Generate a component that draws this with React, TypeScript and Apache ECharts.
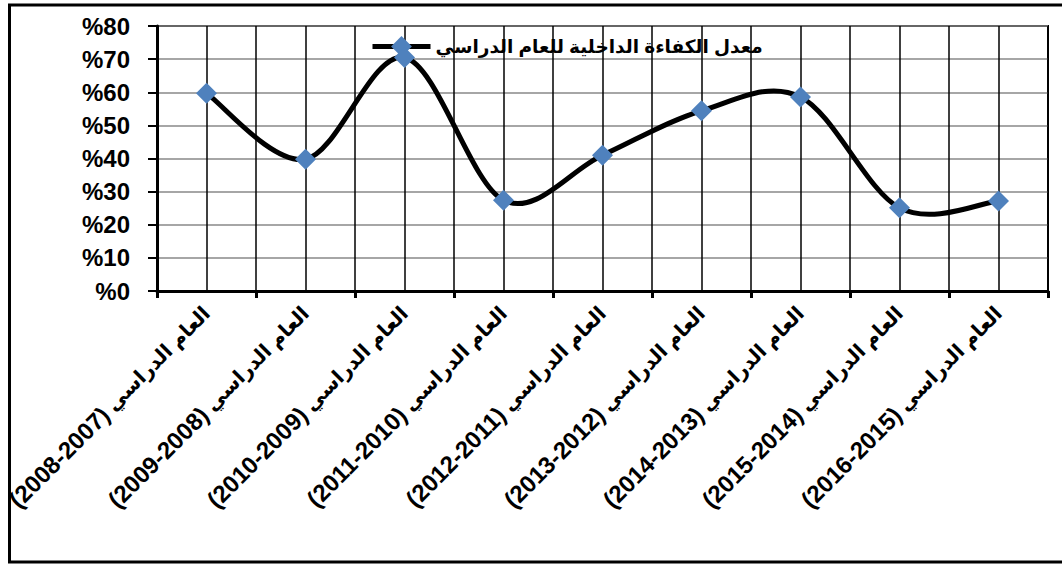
import React, { useEffect, useRef } from "react";
import * as echarts from "echarts";

// Academic years (category labels) and the internal efficiency rate per year (%)
const yearPrefix = "العام الدراسي";
const years = [
  "2008-2007",
  "2009-2008",
  "2010-2009",
  "2011-2010",
  "2012-2011",
  "2013-2012",
  "2014-2013",
  "2015-2014",
  "2016-2015",
];
const categories = years.map((y) => `${yearPrefix} (${y})`);
const efficiencyRates = [59.7, 39.8, 70.5, 27.4, 41.0, 54.4, 58.6, 25.1, 27.2];
const seriesName = "معدل الكفاءة الداخلية للعام الدراسي";
const yMin = 0;
const yMax = 80;
const yStep = 10;

const FONT = "'Liberation Sans', Arial, 'DejaVu Sans', sans-serif";

export default function App() {
  const ref = useRef<HTMLDivElement>(null);

  useEffect(() => {
    if (!ref.current) return;
    const chart = echarts.init(ref.current, null, { renderer: "svg" });
    const n = efficiencyRates.length;

    // Cardinal (Catmull-Rom) spline segment between point i and i+1
    const renderCurve = (params: any, api: any) => {
      const i = params.dataIndex;
      const P = (k: number) => {
        const j = Math.max(0, Math.min(n - 1, k));
        return api.coord([j, efficiencyRates[j]]);
      };
      const p0 = P(i - 1);
      const p1 = P(i);
      const p2 = P(i + 1);
      const p3 = P(i + 2);
      return {
        type: "bezierCurve",
        shape: {
          x1: p1[0],
          y1: p1[1],
          x2: p2[0],
          y2: p2[1],
          cpx1: p1[0] + (p2[0] - p0[0]) / 6,
          cpy1: p1[1] + (p2[1] - p0[1]) / 6,
          cpx2: p2[0] - (p3[0] - p1[0]) / 6,
          cpy2: p2[1] - (p3[1] - p1[1]) / 6,
        },
        style: { stroke: "#000", lineWidth: 5, fill: "none", lineCap: "round" },
        silent: true,
      };
    };

    chart.setOption({
      animation: false,
      backgroundColor: "#fff",
      textStyle: { fontFamily: FONT },
      grid: {
        left: 157,
        right: 14,
        top: 26,
        bottom: 274,
        show: true,
        borderColor: "#000",
        borderWidth: 2,
        containLabel: false,
      },
      legend: {
        show: true,
        left: 370,
        top: 36,
        padding: 0,
        itemWidth: 58,
        itemHeight: 26,
        itemGap: 4,
        data: [seriesName],
        lineStyle: { color: "#000", width: 5, opacity: 1 },
        textStyle: {
          fontFamily: FONT,
          fontWeight: "bold",
          fontSize: 18.5,
          color: "#000",
        },
      },
      xAxis: [
        {
          type: "category",
          data: categories,
          boundaryGap: true,
          axisLine: { show: true, lineStyle: { color: "#000", width: 3 } },
          axisTick: {
            show: true,
            length: 7,
            lineStyle: { color: "#000", width: 3 },
            interval: 0,
          },
          splitLine: { show: false },
          axisLabel: {
            interval: 0,
            rotate: 45,
            margin: 19,
            color: "#000",
            fontFamily: FONT,
            fontWeight: "bold",
            fontSize: 20,
            formatter: (v: string) => {
              const m = v.match(/\((.*)\)/);
              const yr = m ? m[1] : "";
              return `{num|(${yr})} {ar|${yearPrefix}}`;
            },
            rich: {
              num: {
                fontFamily: FONT,
                fontWeight: "bold",
                fontSize: 24,
                color: "#000",
              },
              ar: {
                fontFamily: FONT,
                fontWeight: "bold",
                fontSize: 20,
                color: "#000",
              },
            },
          },
        },
        {
          // half-category vertical grid lines
          type: "value",
          min: 0,
          max: categories.length * 2,
          interval: 1,
          position: "bottom",
          axisLine: { show: false },
          axisTick: { show: false },
          axisLabel: { show: false },
          splitLine: { show: true, lineStyle: { color: "#000", width: 1.5 } },
        },
      ],
      yAxis: {
        type: "value",
        min: yMin,
        max: yMax,
        interval: yStep,
        axisLine: { show: true, lineStyle: { color: "#000", width: 3 } },
        axisTick: { show: true, length: 9, lineStyle: { color: "#000", width: 2 } },
        splitLine: { show: true, lineStyle: { color: "#888", width: 1.5 } },
        axisLabel: {
          margin: 27,
          color: "#000",
          fontFamily: FONT,
          fontWeight: "bold",
          fontSize: 24,
          formatter: (v: number) => "%" + v,
        },
      },
      series: [
        {
          name: "curve",
          type: "custom",
          xAxisIndex: 0,
          yAxisIndex: 0,
          data: efficiencyRates.slice(0, -1).map((v, i) => [i, v]),
          renderItem: renderCurve,
          z: 3,
          silent: true,
        },
        {
          name: seriesName,
          type: "line",
          xAxisIndex: 0,
          data: efficiencyRates,
          symbol: "diamond",
          symbolSize: 21,
          lineStyle: { color: "#000", width: 0 },
          itemStyle: { color: "#4F81BD" },
          z: 5,
        },
      ],
      graphic: [
        {
          type: "rect",
          shape: { x: 9.5, y: 5, width: 1070, height: 557 },
          style: { fill: "none", stroke: "#000", lineWidth: 3 },
          silent: true,
        },
      ],
    });
    return () => chart.dispose();
  }, []);

  return (
    <div
      ref={ref}
      style={{ position: "fixed", left: 0, top: 0, width: 1062, height: 565 }}
    />
  );
}
